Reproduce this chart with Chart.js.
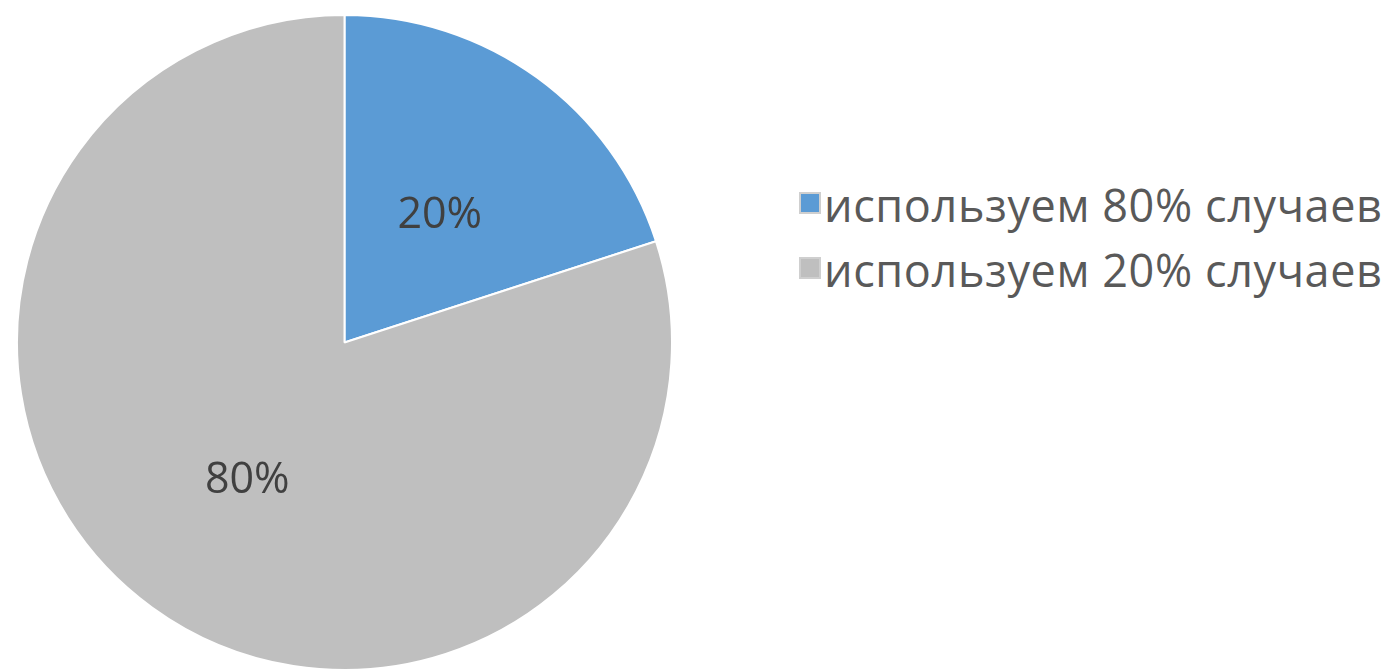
<!DOCTYPE html>
<html>
<head>
<meta charset="utf-8">
<script src="https://cdn.jsdelivr.net/npm/chart.js@4"></script>
<style>
  html, body { margin: 0; padding: 0; background: #fff; width: 1393px; height: 672px; overflow: hidden; position: relative; }
  #wrap { position: absolute; left: 16px; top: 14px; width: 657px; height: 657px; }
  .item { position: absolute; left: 0; height: 50px; line-height: 50px; white-space: nowrap;
          font-family: "Open Sans", sans-serif; font-size: 45px; color: #595959; letter-spacing: 0.6px; }
  .box { position: absolute; width: 22px; height: 22px; box-sizing: border-box; border: 2px solid #cfcfcf; }
</style>
</head>
<body>
<div id="wrap"><canvas id="c"></canvas></div>
<script>
const categories = ["используем 80% случаев", "используем 20% случаев"];
const values = [20, 80];
const valueLabels = ["20%", "80%"];
const colors = ["#5B9BD5", "#BFBFBF"];

const labelPlugin = {
  id: 'sliceLabels',
  afterDatasetsDraw(chart) {
    const ctx = chart.ctx;
    const meta = chart.getDatasetMeta(0);
    ctx.save();
    ctx.font = '43px "Open Sans", sans-serif';
    ctx.fillStyle = '#404040';
    ctx.textAlign = 'center';
    ctx.textBaseline = 'middle';
    meta.data.forEach((arc, i) => {
      const p = arc.tooltipPosition();
      ctx.fillText(valueLabels[i], p.x - 1, p.y + 6);
    });
    ctx.restore();
  }
};

new Chart(document.getElementById('c'), {
  type: 'pie',
  data: {
    labels: categories,
    datasets: [{
      data: values,
      backgroundColor: colors,
      borderColor: '#ffffff',
      borderWidth: 2
    }]
  },
  options: {
    responsive: true,
    maintainAspectRatio: false,
    animation: false,
    plugins: { legend: { display: false }, tooltip: { enabled: false } },
    layout: { padding: 0 }
  },
  plugins: [labelPlugin]
});

const legendTop = 180, legendStep = 65;
categories.forEach((c, i) => {
  const top = legendTop + i * legendStep;
  const b = document.createElement('div');
  b.className = 'box';
  b.style.background = colors[i];
  b.style.left = '799px';
  b.style.top = (top + 12) + 'px';
  document.body.appendChild(b);
  const t = document.createElement('div');
  t.className = 'item';
  t.style.left = '824px';
  t.style.top = top + 'px';
  t.textContent = c;
  document.body.appendChild(t);
});
</script>
</body>
</html>
